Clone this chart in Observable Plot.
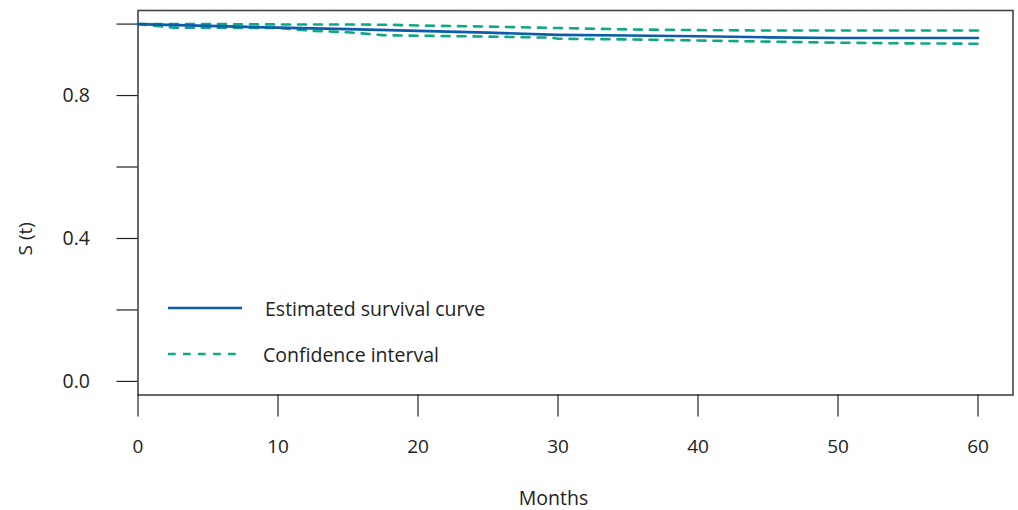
<!DOCTYPE html>
<html>
<head>
<meta charset="utf-8">
<script src="https://cdn.jsdelivr.net/npm/d3@7"></script>
<script src="https://cdn.jsdelivr.net/npm/@observablehq/plot@0.6"></script>
<style>
  html, body { margin: 0; padding: 0; background: #fff; }
  #wrap { position: relative; width: 1018px; height: 510px; font-family: "Open Sans", "Noto Sans", sans-serif; color: #222; }
  #legend { position: absolute; left: 168px; top: 290px; font-size: 19.5px; }
  .item { position: absolute; display: flex; align-items: center; white-space: nowrap; }
  .item svg { display: block; }
</style>
</head>
<body>
<div id="wrap"><div id="legend"></div></div>
<script>
// Survival estimate
const months = [0, 5, 10, 15, 20, 25, 30, 35, 40, 45, 50, 55, 60];
const survival = [1.0, 0.995, 0.990, 0.986, 0.981, 0.976, 0.970, 0.968, 0.966, 0.963, 0.961, 0.961, 0.961];
// Upper confidence limit
const upperMonths = [0, 5, 10, 15, 18, 20, 25, 30, 35, 40, 45, 50, 60];
const ciUpper = [1.0, 1.0, 0.999, 0.999, 0.998, 0.996, 0.993, 0.989, 0.985, 0.983, 0.982, 0.982, 0.982];
// Lower confidence limit
const lowerMonths = [0, 2.5, 10, 12.5, 15, 17.5, 19, 25, 29.5, 30, 35, 40, 45, 50, 55, 60];
const ciLower = [1.0, 0.990, 0.989, 0.981, 0.977, 0.969, 0.968, 0.965, 0.962, 0.959, 0.957, 0.954, 0.951, 0.948, 0.946, 0.945];
// Axes
const xTicks = [0, 10, 20, 30, 40, 50, 60];
const yTicks = [0, 0.2, 0.4, 0.6, 0.8, 1.0];
const yTickLabels = ["0.0", "", "0.4", "", "0.8", ""];
const xTitle = "Months";
const yTitle = "S (t)";
const legendItems = ["Estimated survival curve", "Confidence interval"];

const colSurv = "#0b5dab";
const colCI = "#10a688";

const survData = months.map((m, i) => ({m, s: survival[i]}));
const upData = upperMonths.map((m, i) => ({m, s: ciUpper[i]}));
const loData = lowerMonths.map((m, i) => ({m, s: ciLower[i]}));

const plot = Plot.plot({
  width: 1018,
  height: 510,
  marginLeft: 137.5,
  marginRight: 5.5,
  marginTop: 10,
  marginBottom: 115.5,
  style: {fontFamily: '"Open Sans", "Noto Sans", sans-serif', fontSize: "19px", color: "#222", background: "transparent"},
  x: {domain: [0, 62.5]},
  y: {domain: [-0.038, 1.038]},
  marks: [
    Plot.frame({stroke: "#444", strokeWidth: 1.6}),
    Plot.axisX(xTicks, {tickSize: 22, tickPadding: 22, tickFormat: d => String(d), label: null, stroke: "#222", strokeWidth: 1.2, fontSize: 19}),
    Plot.axisY(yTicks, {tickSize: 21, tickPadding: 27, tickFormat: d => yTickLabels[yTicks.indexOf(d)], label: null, stroke: "#222", strokeWidth: 1.2, fontSize: 19.5}),
    Plot.line(upData, {x: "m", y: "s", stroke: colCI, strokeWidth: 2.6, strokeDasharray: "8,8"}),
    Plot.line(loData, {x: "m", y: "s", stroke: colCI, strokeWidth: 2.6, strokeDasharray: "8,8"}),
    Plot.line(survData, {x: "m", y: "s", stroke: colSurv, strokeWidth: 2.7}),
    Plot.text([xTitle], {frameAnchor: "bottom", dx: -22, dy: 104, lineAnchor: "middle", fontSize: 19.5, fill: "#222"}),
    Plot.text([yTitle], {frameAnchor: "left", dx: -112.5, dy: 36, rotate: -90, textAnchor: "middle", lineAnchor: "middle", fontSize: 19, fill: "#222"})
  ]
});
const wrap = document.getElementById("wrap");
wrap.insertBefore(plot, wrap.firstChild);

// legend
const legend = document.getElementById("legend");
const styles = [{stroke: colSurv, dash: null, top: 18, gap: 23}, {stroke: colCI, dash: "7.7,7.3", top: 64, gap: 21}];
legendItems.forEach((label, i) => {
  const st = styles[i];
  const item = document.createElement("div");
  item.className = "item";
  item.style.top = (st.top - 14) + "px";
  item.style.height = "28px";
  item.innerHTML = `<svg width="74" height="28"><line x1="0" x2="74" y1="14" y2="14" stroke="${st.stroke}" stroke-width="2.6" ${st.dash ? `stroke-dasharray="${st.dash}"` : ""}/></svg><span style="margin-left:${st.gap}px">${label}</span>`;
  legend.appendChild(item);
});
</script>
</body>
</html>
